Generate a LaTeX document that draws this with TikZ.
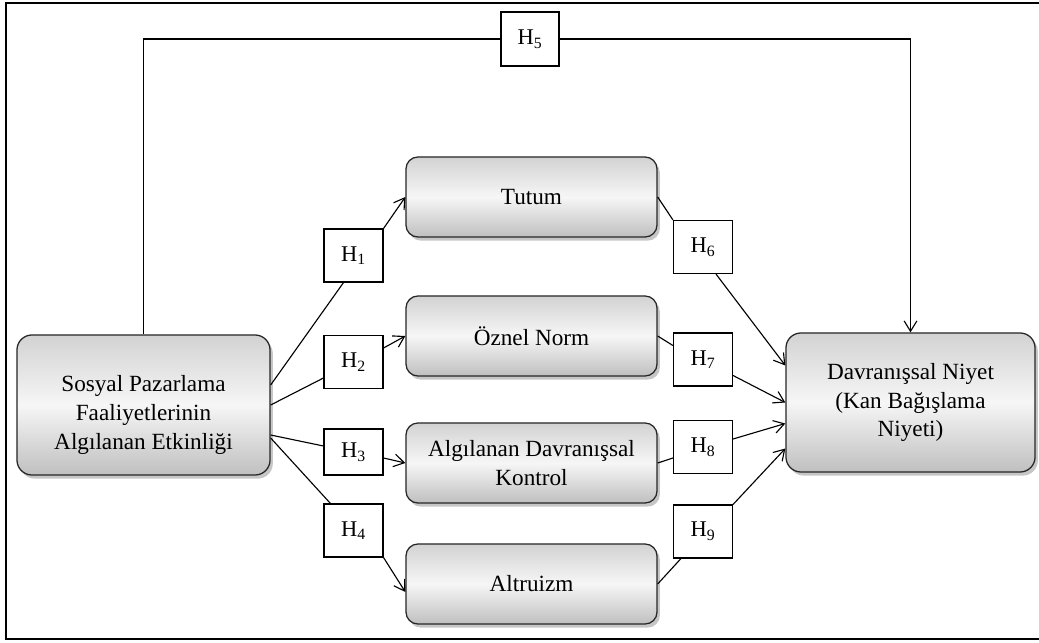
\documentclass[tikz,border=0pt]{standalone}
\usepackage{fontspec}
\setmainfont{Liberation Serif}
\usetikzlibrary{arrows.meta,calc,shadows}

\begin{document}
\begin{tikzpicture}[x=0.025cm,y=-0.025cm,line width=0.8pt,
  var/.style={draw=black!85, line width=0.9pt, rounded corners=0.3cm, align=center,
    top color=gray!35, bottom color=gray!50, middle color=gray!7,
    drop shadow={shadow xshift=0.7mm, shadow yshift=-0.9mm, opacity=0.45},
    font=\fontsize{16.5}{20.5}\selectfont, minimum width=6.275cm, minimum height=2cm},
  hyp/.style={draw, fill=white, line width=0.8pt, inner sep=0pt,
    font=\fontsize{16}{18}\selectfont, minimum width=1.475cm, minimum height=1.325cm},
  arr/.style={-{Straight Barb[length=2.6mm,width=3.2mm]}}]
\useasboundingbox (0,0) rectangle (1039,643);
\draw[line width=1.4pt] (1039,3) -- (6,3) -- (6,639) -- (1039,639);
\node[var, minimum width=6.325cm, minimum height=3.5cm, rounded corners=0.375cm,
  label={[align=center, font=\fontsize{16.5}{20.5}\selectfont, yshift=-0.25cm]center:Sosyal Pazarlama\\Faaliyetlerinin\\Algılanan Etkinliği}] (src) at (143.5,405) {};
\node[var] (tutum) at (531.5,197) {Tutum};
\node[var] (oznel) at (531.5,336) {Öznel Norm};
\node[var] (adk) at (531.5,463) {Algılanan Davranışsal\\Kontrol};
\node[var] (altr) at (531.5,584) {Altruizm};
\node[var, minimum width=6.225cm, minimum height=3.475cm, rounded corners=0.375cm] (dav) at (910.5,402.5) {Davranışsal Niyet\\(Kan Bağışlama\\Niyeti)};
\node[hyp] (h1) at (353.5,255.5) {H\textsubscript{1}};
\node[hyp] (h2) at (353.5,362) {H\textsubscript{2}};
\node[hyp, minimum height=1.15cm] (h3) at (353.5,452) {H\textsubscript{3}};
\node[hyp] (h4) at (353.5,530.5) {H\textsubscript{4}};
\node[hyp, minimum width=1.45cm, minimum height=1.35cm] (h5) at (530,39) {H\textsubscript{5}};
\node[hyp] (h6) at (703,247) {H\textsubscript{6}};
\node[hyp] (h7) at (703,359.5) {H\textsubscript{7}};
\node[hyp] (h8) at (703,447) {H\textsubscript{8}};
\node[hyp] (h9) at (703,531.5) {H\textsubscript{9}};
\draw (src.north) |- (h5.west);
\draw[arr] (h5.east) -| (dav.north);
\draw ($(src.east)+(0,-20)$) -- ($(h1.south)+(-10,0)$);
\draw[arr] (h1.north east) -- (tutum.west);
\draw (src.east) -- ($(h2.west)+(0,16)$);
\draw[arr] ($(h2.east)+(0,-14)$) -- (oznel.west);
\draw ($(src.east)+(0,30)$) -- ($(h3.west)+(0,-6)$);
\draw[arr] ($(h3.east)+(0,6)$) -- (adk.west);
\draw ($(src.east)+(0,33)$) -- ($(h4.north west)+(7,0)$);
\draw[arr] (h4.south east) -- ($(altr.west)+(0,8)$);
\draw (tutum.east) -- (h6.north west);
\draw[arr] ($(h6.south)+(13,0)$) -- ($(dav.west)+(0,-37)$);
\draw (oznel.east) -- ($(h7.west)+(0,-14)$);
\draw[arr] ($(h7.east)+(0,16)$) -- (dav.west);
\draw (adk.east) -- ($(h8.west)+(0,11)$);
\draw[arr] ($(h8.east)+(0,-8)$) -- ($(dav.west)+(0,21)$);
\draw (altr.east) -- ($(h9.south west)+(8,0)$);
\draw[arr] (h9.north east) -- ($(dav.west)+(0,46)$);
\end{tikzpicture}
\end{document}
